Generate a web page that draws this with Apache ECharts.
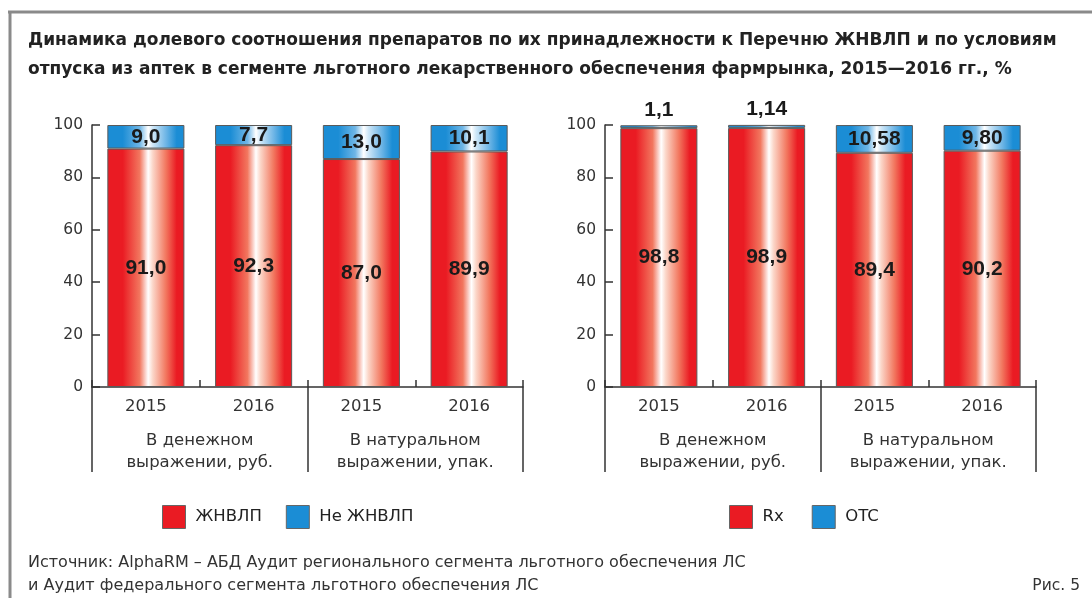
<!DOCTYPE html>
<html>
<head>
<meta charset="utf-8">
<script src="https://cdn.jsdelivr.net/npm/echarts@6/dist/echarts.min.js"></script>
<style>
html, body { margin: 0; padding: 0; background: #fff; }
#chart { width: 1092px; height: 598px; }
</style>
</head>
<body>
<div id="chart"></div>
<script>
// data
var years = ['2015', '2016', '2015', '2016'];
var groups = ['В денежном\nвыражении, руб.', 'В натуральном\nвыражении, упак.'];
var leftNames = ['ЖНВЛП', 'Не ЖНВЛП'];
var rightNames = ['Rx', 'OTC'];
var zhnvlp = [91.0, 92.3, 87.0, 89.9];
var notZhnvlp = [9.0, 7.7, 13.0, 10.1];
var rx = [98.8, 98.9, 89.4, 90.2];
var otc = [1.1, 1.14, 10.58, 9.80];
var otcDigits = [1, 2, 2, 2];

var FONT = 'DejaVu Sans';
var NUMFONT = 'Liberation Sans';
var RED = '#ea1b23';
var BLUE = '#1b8dd5';

var chartDom = document.getElementById('chart');
var myChart = echarts.init(chartDom);

function stripe(edge, mid, soft) {
    return new echarts.graphic.LinearGradient(0, 0, 1, 0, [
        { offset: 0, color: edge },
        { offset: 0.2, color: edge },
        { offset: 0.42, color: mid },
        { offset: 0.53, color: '#ffffff' },
        { offset: 0.59, color: soft },
        { offset: 0.76, color: mid },
        { offset: 0.9, color: edge },
        { offset: 1, color: edge }
    ]);
}
var redFill = stripe(RED, '#f2775f', '#fbd6c8');
var blueFill = stripe(BLUE, '#6fb6e6', '#cfe7f7');

function fmt(v, d) {
    return v.toFixed(d).replace('.', ',');
}

function labelled(values, digits) {
    return values.map(function (v, i) {
        var d = Array.isArray(digits) ? digits[i] : digits;
        return {
            value: v,
            label: { position: v < 3 ? 'top' : 'inside', formatter: fmt(v, d) }
        };
    });
}

var gridW = 431;
var grids = [
    { left: 92, top: 125, width: gridW, height: 262 },
    { left: 605, top: 125, width: gridW, height: 262 }
];

var xAxes = [];
var yAxes = [];
grids.forEach(function (g, k) {
    xAxes.push({
        type: 'category',
        gridIndex: k,
        data: years,
        axisLine: { lineStyle: { color: '#333', width: 1.5 } },
        axisTick: { show: true, inside: true, length: 7, lineStyle: { color: '#333', width: 1.5 } },
        axisLabel: { margin: 11, fontSize: 16.5, color: '#333', fontFamily: FONT }
    });
    xAxes.push({
        type: 'category',
        gridIndex: k,
        data: groups,
        position: 'bottom',
        offset: -7,
        axisLine: { show: false },
        axisTick: { show: true, length: 92, lineStyle: { color: '#333', width: 1.5 } },
        axisLabel: { margin: 50, fontSize: 16.5, lineHeight: 22, color: '#333', fontFamily: FONT }
    });
    yAxes.push({
        type: 'value',
        gridIndex: k,
        min: 0,
        max: 100,
        interval: 20,
        splitLine: { show: false },
        axisLine: { show: true, lineStyle: { color: '#333', width: 1.5 } },
        axisTick: { show: true, inside: true, length: 8, lineStyle: { color: '#333', width: 1.5 } },
        axisLabel: { margin: 9, fontSize: 15.5, color: '#333', fontFamily: FONT }
    });
});

var barLabel = { show: true, fontSize: 21, fontWeight: 'bold', color: '#1a1a1a', fontFamily: NUMFONT };
var barBorder = { borderColor: '#5a5a5a', borderWidth: 1 };

function makeSeries(name, axis, stack, values, digits, fill) {
    return {
        name: name,
        type: 'bar',
        xAxisIndex: axis * 2,
        yAxisIndex: axis,
        stack: stack,
        barWidth: '71.5%',
        itemStyle: Object.assign({ color: fill }, barBorder),
        label: barLabel,
        labelLayout: { hideOverlap: false },
        data: labelled(values, digits)
    };
}

var legendText = { fontSize: 16.5, color: '#222', fontFamily: FONT, padding: [0, 0, 0, 5] };

function legendItem(name, color) {
    return { name: name, itemStyle: { color: color, borderColor: '#666', borderWidth: 1 } };
}

var option = {
    animation: false,
    textStyle: { fontFamily: FONT },
    title: [
        {
            text: 'Динамика долевого соотношения препаратов по их принадлежности к Перечню ЖНВЛП и по условиям\nотпуска из аптек в сегменте льготного лекарственного обеспечения фармрынка, 2015—2016 гг., %',
            left: 28,
            top: 26,
            padding: 0,
            textStyle: { fontSize: 17, fontWeight: 'bold', color: '#222', lineHeight: 29, fontFamily: FONT }
        },
        {
            text: 'Источник: AlphaRM – АБД Аудит регионального сегмента льготного обеспечения ЛС\nи Аудит федерального сегмента льготного обеспечения ЛС',
            left: 28,
            top: 551,
            padding: 0,
            textStyle: { fontSize: 16, fontWeight: 'normal', color: '#333', lineHeight: 23, fontFamily: FONT }
        },
        {
            text: 'Рис. 5',
            right: 12,
            top: 578,
            padding: 0,
            textStyle: { fontSize: 15.5, fontWeight: 'normal', color: '#333', fontFamily: FONT }
        }
    ],
    legend: [
        {
            left: 162,
            top: 505,
            padding: 0,
            itemWidth: 23,
            itemHeight: 23,
            itemGap: 24,
            icon: 'rect',
            textStyle: legendText,
            data: [legendItem(leftNames[0], RED), legendItem(leftNames[1], BLUE)]
        },
        {
            left: 729,
            top: 505,
            padding: 0,
            itemWidth: 23,
            itemHeight: 23,
            itemGap: 28,
            icon: 'rect',
            textStyle: legendText,
            data: [legendItem(rightNames[0], RED), legendItem(rightNames[1], BLUE)]
        }
    ],
    grid: grids,
    xAxis: xAxes,
    yAxis: yAxes,
    series: [
        makeSeries(leftNames[0], 0, 'left', zhnvlp, 1, redFill),
        makeSeries(leftNames[1], 0, 'left', notZhnvlp, 1, blueFill),
        makeSeries(rightNames[0], 1, 'right', rx, 1, redFill),
        makeSeries(rightNames[1], 1, 'right', otc, otcDigits, blueFill)
    ],
    graphic: [
        { type: 'line', shape: { x1: 8, y1: 12, x2: 1092, y2: 12 }, style: { stroke: '#8a8a8a', lineWidth: 3 } },
        { type: 'line', shape: { x1: 10, y1: 11, x2: 10, y2: 598 }, style: { stroke: '#8a8a8a', lineWidth: 3 } }
    ]
};

option && myChart.setOption(option);
</script>
</body>
</html>
